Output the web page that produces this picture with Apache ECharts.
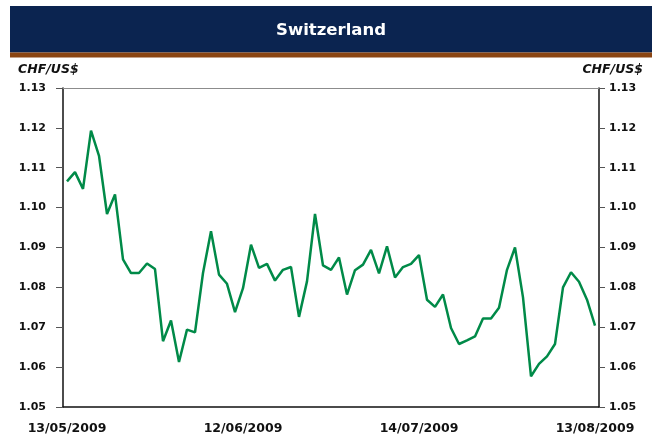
<!DOCTYPE html>
<html>
<head>
<meta charset="utf-8">
<script src="https://cdn.jsdelivr.net/npm/echarts@6/dist/echarts.min.js"></script>
<style>
html,body{margin:0;padding:0;background:#fff;}
#chart{width:652px;height:440px;}
</style>
</head>
<body>
<div id="chart"></div>
<script>
var chartTitle = 'Switzerland';
var unitLabel = 'CHF/US$';
var dates = [
  '13/05/2009','14/05/2009','15/05/2009','18/05/2009','19/05/2009','20/05/2009','21/05/2009','22/05/2009','25/05/2009','26/05/2009','27/05/2009','28/05/2009','29/05/2009',
  '01/06/2009','02/06/2009','03/06/2009','04/06/2009','05/06/2009','08/06/2009','09/06/2009','10/06/2009','11/06/2009','12/06/2009','15/06/2009','16/06/2009','17/06/2009','18/06/2009','19/06/2009','22/06/2009','23/06/2009','24/06/2009','25/06/2009','26/06/2009','29/06/2009','30/06/2009',
  '01/07/2009','02/07/2009','03/07/2009','06/07/2009','07/07/2009','08/07/2009','09/07/2009','10/07/2009','13/07/2009','14/07/2009','15/07/2009','16/07/2009','17/07/2009','20/07/2009','21/07/2009','22/07/2009','23/07/2009','24/07/2009','27/07/2009','28/07/2009','29/07/2009','30/07/2009','31/07/2009',
  '03/08/2009','04/08/2009','05/08/2009','06/08/2009','07/08/2009','10/08/2009','11/08/2009','12/08/2009','13/08/2009'
];
var chfPerUsd = [
  1.1066, 1.1089, 1.1047, 1.1193, 1.1130, 1.0984, 1.1033, 1.0870, 1.0836, 1.0836,
  1.0860, 1.0846, 1.0665, 1.0717, 1.0613, 1.0694, 1.0687, 1.0836, 1.0941, 1.0832,
  1.0809, 1.0738, 1.0798, 1.0907, 1.0849, 1.0859, 1.0817, 1.0844, 1.0851, 1.0726,
  1.0815, 1.0984, 1.0855, 1.0844, 1.0875, 1.0782, 1.0843, 1.0857, 1.0894, 1.0835,
  1.0903, 1.0825, 1.0851, 1.0859, 1.0881, 1.0769, 1.0751, 1.0782, 1.0698, 1.0658,
  1.0667, 1.0677, 1.0722, 1.0722, 1.0749, 1.0844, 1.0900, 1.0775, 1.0577, 1.0608,
  1.0627, 1.0658, 1.0800, 1.0838, 1.0814, 1.0769, 1.0704
];
var yMin = 1.05, yMax = 1.13, yStep = 0.01;

var chart = echarts.init(document.getElementById('chart'), null, {renderer:'canvas'});
var numFont = 'DejaVu Sans';
var yLabel = function (v) { return v.toFixed(2); };

chart.setOption({
  animation: false,
  backgroundColor: '#ffffff',
  title: {
    text: chartTitle,
    left: 331,
    top: 22,
    textAlign: 'center',
    padding: 0,
    textStyle: {color: '#ffffff', fontFamily: numFont, fontWeight: 'bold', fontSize: 16.5}
  },
  graphic: [
    {type: 'rect', z: -1, shape: {x: 10, y: 6, width: 642, height: 46.5}, style: {fill: '#0b2450'}},
    {type: 'rect', z: -1, shape: {x: 10, y: 52.5, width: 642, height: 5}, style: {fill: '#8a4512'}},
    {type: 'text', style: {text: unitLabel, x: 18, y: 70, textVerticalAlign: 'middle', textAlign: 'left',
      font: 'italic bold 12.5px "DejaVu Sans"', fill: '#111'}},
    {type: 'text', style: {text: unitLabel, x: 643, y: 70, textVerticalAlign: 'middle', textAlign: 'right',
      font: 'italic bold 12.5px "DejaVu Sans"', fill: '#111'}}
  ],
  grid: {left: 63, right: 53, top: 88, height: 319, containLabel: false},
  xAxis: [
    {
      type: 'category',
      data: dates,
      boundaryGap: true,
      position: 'bottom',
      axisLine: {lineStyle: {color: '#111', width: 1.5}},
      axisTick: {show: false},
      axisLabel: {interval: 21, margin: 15, color: '#111', fontFamily: numFont, fontWeight: 'bold', fontSize: 12.5,
        showMinLabel: true, showMaxLabel: true, hideOverlap: false},
      splitLine: {show: false}
    },
    {
      type: 'category',
      data: dates,
      boundaryGap: true,
      position: 'top',
      axisLine: {lineStyle: {color: '#8c8c8c', width: 1}},
      axisTick: {show: false},
      axisLabel: {show: false},
      splitLine: {show: false}
    }
  ],
  yAxis: [
    {
      type: 'value', position: 'left', min: yMin, max: yMax, interval: yStep,
      axisLine: {show: true, onZero: false, lineStyle: {color: '#111', width: 1.5}},
      axisTick: {show: true, inside: false, length: 7, lineStyle: {color: '#555', width: 1}},
      axisLabel: {margin: 17, formatter: yLabel, color: '#111', fontFamily: numFont, fontWeight: 'bold', fontSize: 11},
      splitLine: {show: false}
    },
    {
      type: 'value', position: 'right', min: yMin, max: yMax, interval: yStep,
      axisLine: {show: true, onZero: false, lineStyle: {color: '#111', width: 1.5}},
      axisTick: {show: true, inside: false, length: 6, lineStyle: {color: '#555', width: 1}},
      axisLabel: {margin: 10, formatter: yLabel, color: '#111', fontFamily: numFont, fontWeight: 'bold', fontSize: 11},
      splitLine: {show: false}
    }
  ],
  series: [
    {
      type: 'line',
      name: unitLabel,
      data: chfPerUsd,
      xAxisIndex: 0,
      yAxisIndex: 0,
      showSymbol: false,
      symbol: 'none',
      lineStyle: {color: '#008a48', width: 2.5},
      z: 3
    }
  ]
});
</script>
</body>
</html>
